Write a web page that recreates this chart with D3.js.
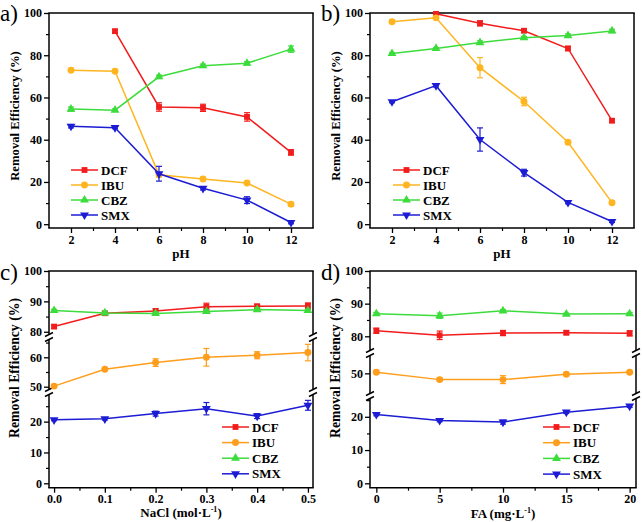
<!DOCTYPE html>
<html><head><meta charset="utf-8">
<script src="https://cdn.jsdelivr.net/npm/d3@7"></script>
</head>
<body style="margin:0;background:#fff">
<svg id="chart" width="642" height="522" style="display:block"></svg>
<script>
// ---------- DATA ----------
const seriesNames = ["DCF", "IBU", "CBZ", "SMX"];
const phValues = [2, 4, 6, 8, 10, 12];
const naclValues = [0.0, 0.1, 0.2, 0.3, 0.4, 0.5];
const faValues = [0, 5, 10, 15, 20];

// Panel a
const aDCF = [null, 91.4, 55.5, 55.1, 50.8, 34.0];
const aDCFerr = [null, 0.8, 2.0, 1.7, 2.0, 1.3];
const aIBU = [72.9, 72.4, 23.4, 21.4, 19.5, 9.5];
const aIBUerr = [0.5, 0.5, 1.0, 0.8, 0.6, 0.8];
const aCBZ = [54.5, 54.0, 69.8, 75.0, 76.2, 82.9];
const aCBZerr = [1.0, 0.6, 0.8, 0.8, 0.8, 1.5];
const aSMX = [46.4, 45.7, 23.9, 17.0, 11.4, 0.8];
const aSMXerr = [0.8, 0.5, 3.5, 0.8, 1.6, 0.6];

// Panel b
const bDCF = [null, 99.6, 95.1, 91.6, 83.2, 49.0];
const bDCFerr = [null, 0.5, 1.2, 0.8, 1.0, 0.8];
const bIBU = [95.9, 97.7, 74.1, 58.1, 38.8, 10.2];
const bIBUerr = [0.5, 0.6, 4.8, 2.0, 0.8, 0.8];
const bCBZ = [80.8, 83.2, 86.0, 88.3, 89.3, 91.5];
const bCBZerr = [0.5, 0.4, 0.8, 0.6, 0.8, 0.8];
const bSMX = [58.0, 65.6, 40.1, 24.4, 10.3, 1.3];
const bSMXerr = [0.5, 0.6, 5.5, 1.6, 0.6, 0.5];

// Panel c
const cDCF = [81.7, 86.1, 86.8, 88.2, 88.4, 88.5];
const cDCFerr = [0.6, 0.5, 0.8, 1.2, 0.6, 1.0];
const cIBU = [50.2, 55.9, 58.2, 60.0, 60.7, 61.6];
const cIBUerr = [0.5, 0.4, 1.3, 3.0, 1.2, 2.8];
const cCBZ = [87.0, 86.2, 86.0, 86.7, 87.3, 87.0];
const cCBZerr = [0.4, 0.6, 0.5, 0.5, 0.6, 0.4];
const cSMX = [20.6, 20.9, 22.6, 24.2, 21.8, 25.3];
const cSMXerr = [0.3, 0.4, 0.8, 2.0, 0.8, 1.6];

// Panel d
const dDCF = [81.7, 80.3, 81.0, 81.1, 80.9];
const dDCFerr = [0.8, 1.3, 0.8, 0.6, 0.8];
const dIBU = [50.3, 48.1, 48.1, 49.7, 50.3];
const dIBUerr = [0.4, 0.5, 1.2, 0.4, 0.4];
const dCBZ = [86.9, 86.3, 87.8, 86.8, 86.9];
const dCBZerr = [0.4, 0.8, 0.4, 0.3, 0.4];
const dSMX = [20.7, 18.9, 18.4, 21.4, 23.2];
const dSMXerr = [0.4, 0.4, 0.6, 0.4, 0.4];

// Tick labels
const phTicks = [2, 4, 6, 8, 10, 12];
const phMinor = [3, 5, 7, 9, 11];
const naclTicks = [0, 0.1, 0.2, 0.3, 0.4, 0.5];
const naclMinor = [0.05, 0.15, 0.25, 0.35, 0.45];
const faTicks = [0, 5, 10, 15, 20];
const faMinor = [2.5, 7.5, 12.5, 17.5];
const yTicksAB = [0, 20, 40, 60, 80, 100];
const yMinorAB = [10, 30, 50, 70, 90];
const yTicksC = [0, 10, 20, 50, 60, 80, 90, 100];
const yMinorC = [5, 15, 25, 55, 65, 85, 95];
const yTicksD = [0, 10, 20, 50, 80, 90, 100];
const yMinorD = [5, 15, 25, 85, 95];

// ---------- STYLE ----------
const colDCF = "#f21c1c", colIBUab = "#ffb520", colIBUcd = "#ff9d1c", colCBZ = "#3ddc3d", colSMX = "#1c1cd4";
const shapes = [d3.symbolSquare, d3.symbolCircle, d3.symbolTriangle, d3.symbolTriangle];
const shapeSize = [34, 38, 34, 34];
const shapeRot = [0, 0, 0, 180];

const svg = d3.select("#chart");

function panel(cfg) {
  const g = svg.append("g");
  const x = d3.scaleLinear().domain(cfg.xDomain).range([cfg.left, cfg.right]);
  const yd = [], yr = [];
  cfg.segs.forEach(s => { yd.push(s.d[0], s.d[1]); yr.push(s.r[0], s.r[1]); });
  const y = d3.scaleLinear().domain(yd).range(yr);
  const top = cfg.segs[cfg.segs.length - 1].r[1];
  const bottom = cfg.segs[0].r[0];

  const fs = "12px";
  const xa = g.append("g").attr("transform", `translate(0,${bottom})`)
    .call(d3.axisBottom(x).tickValues(cfg.xTicks).tickSize(5).tickPadding(2).tickSizeOuter(0).tickFormat(cfg.xFmt));
  xa.select(".domain").remove();
  xa.selectAll("text").style("font-size", fs).style("font-weight", "bold");
  xa.selectAll("line").attr("stroke-width", 1.3);
  const xm = g.append("g").attr("transform", `translate(0,${bottom})`)
    .call(d3.axisBottom(x).tickValues(cfg.xMinor).tickSize(3).tickFormat(""));
  xm.select(".domain").remove();
  xm.selectAll("line").attr("stroke-width", 1.2);

  const ya = g.append("g").attr("transform", `translate(${cfg.left},0)`)
    .call(d3.axisLeft(y).tickValues(cfg.yTicks).tickSize(5).tickPadding(2).tickFormat(d3.format("d")));
  ya.select(".domain").remove();
  ya.selectAll("text").style("font-size", fs).style("font-weight", "bold");
  ya.selectAll("line").attr("stroke-width", 1.3);
  const ym = g.append("g").attr("transform", `translate(${cfg.left},0)`)
    .call(d3.axisLeft(y).tickValues(cfg.yMinor).tickSize(3).tickFormat(""));
  ym.select(".domain").remove();
  ym.selectAll("line").attr("stroke-width", 1.2);

  const fr = g.append("g").attr("stroke", "#000").attr("stroke-width", 1.5).attr("fill", "none");
  fr.append("line").attr("x1", cfg.left - 0.75).attr("x2", cfg.right + 0.75).attr("y1", top).attr("y2", top);
  fr.append("line").attr("x1", cfg.left - 0.75).attr("x2", cfg.right + 0.75).attr("y1", bottom).attr("y2", bottom);
  cfg.segs.forEach(s => {
    [cfg.left, cfg.right].forEach(xx => {
      fr.append("line").attr("x1", xx).attr("x2", xx).attr("y1", s.r[0]).attr("y2", s.r[1]);
    });
  });
  for (let i = 0; i < cfg.segs.length - 1; i++) {
    const y0 = cfg.segs[i].r[1], y1 = cfg.segs[i + 1].r[0];
    [cfg.left, cfg.right].forEach(xx => {
      [y0, y1].forEach(yy => {
        fr.append("line").attr("x1", xx - 4).attr("x2", xx + 4).attr("y1", yy + 2).attr("y2", yy - 2);
      });
    });
  }

  cfg.series.forEach((s, si) => {
    const pts = cfg.xVals.map((xv, i) => ({ x: xv, y: s.v[i], e: s.e[i] })).filter(p => p.y != null);
    const line = d3.line().x(p => x(p.x)).y(p => y(p.y));
    g.append("path").attr("d", line(pts)).attr("fill", "none").attr("stroke", s.c).attr("stroke-width", 1.5);
    const eb = g.append("g").attr("stroke", s.c).attr("stroke-width", 1.2);
    pts.forEach(p => {
      if (!p.e) return;
      const xx = x(p.x), ya1 = y(p.y + p.e), ya0 = y(p.y - p.e);
      eb.append("line").attr("x1", xx).attr("x2", xx).attr("y1", ya0).attr("y2", ya1);
      eb.append("line").attr("x1", xx - 3).attr("x2", xx + 3).attr("y1", ya0).attr("y2", ya0);
      eb.append("line").attr("x1", xx - 3).attr("x2", xx + 3).attr("y1", ya1).attr("y2", ya1);
    });
    g.append("g").selectAll("path").data(pts).join("path")
      .attr("d", d3.symbol().type(shapes[si]).size(shapeSize[si]))
      .attr("transform", p => `translate(${x(p.x)},${y(p.y)}) rotate(${shapeRot[si]})`)
      .attr("fill", s.c);
  });

  const lg = g.append("g");
  cfg.series.forEach((s, si) => {
    const ly = cfg.leg.y + si * cfg.leg.dy;
    lg.append("line").attr("x1", cfg.leg.x).attr("x2", cfg.leg.x + 27).attr("y1", ly).attr("y2", ly)
      .attr("stroke", s.c).attr("stroke-width", 1.5);
    lg.append("path").attr("d", d3.symbol().type(shapes[si]).size(shapeSize[si]))
      .attr("transform", `translate(${cfg.leg.x + 13.5},${ly}) rotate(${shapeRot[si]})`).attr("fill", s.c);
    lg.append("text").attr("x", cfg.leg.x + 30).attr("y", ly + 4.5).text(seriesNames[si])
      .style("font-size", "13px").style("font-weight", "bold");
  });

  g.append("text").attr("transform", `translate(${cfg.left - 30},${cfg.yTitleY}) rotate(-90)`)
    .attr("text-anchor", "middle").style("font-size", cfg.yTitleFs).style("font-weight", "bold")
    .text("Removal Efficiency (%)");
  const xt = g.append("text").attr("x", (cfg.left + cfg.right) / 2).attr("y", cfg.xTitleY)
    .attr("text-anchor", "middle").style("font-size", "13px").style("font-weight", "bold");
  cfg.xTitle.forEach(part => {
    const t = xt.append("tspan").text(part.t);
    if (part.sup) t.style("font-size", "8px").attr("dy", "-5");
    if (part.down) t.attr("dy", "5");
  });
  g.append("text").attr("x", cfg.label.x).attr("y", cfg.label.y).style("font-size", "23px")
    .text(cfg.label.t);
}

const phTitle = [{ t: "pH" }];
panel({
  left: 49, right: 313, xDomain: [1, 13], xTicks: phTicks, xMinor: phMinor, xFmt: d3.format("d"),
  segs: [{ d: [-1.8, 100], r: [228, 13] }], yTicks: yTicksAB, yMinor: yMinorAB,
  xVals: phValues,
  series: [{ v: aDCF, e: aDCFerr, c: colDCF }, { v: aIBU, e: aIBUerr, c: colIBUab },
           { v: aCBZ, e: aCBZerr, c: colCBZ }, { v: aSMX, e: aSMXerr, c: colSMX }],
  leg: { x: 71, y: 170, dy: 15 }, yTitleY: 116, yTitleFs: "12.7px", xTitle: phTitle, xTitleY: 258,
  label: { x: 0, y: 21, t: "a)" }
});
panel({
  left: 370, right: 634, xDomain: [1, 13], xTicks: phTicks, xMinor: phMinor, xFmt: d3.format("d"),
  segs: [{ d: [-1.8, 100], r: [228, 13] }], yTicks: yTicksAB, yMinor: yMinorAB,
  xVals: phValues,
  series: [{ v: bDCF, e: bDCFerr, c: colDCF }, { v: bIBU, e: bIBUerr, c: colIBUab },
           { v: bCBZ, e: bCBZerr, c: colCBZ }, { v: bSMX, e: bSMXerr, c: colSMX }],
  leg: { x: 393, y: 170, dy: 15 }, yTitleY: 116, yTitleFs: "12.7px", xTitle: phTitle, xTitleY: 258,
  label: { x: 321, y: 21, t: "b)" }
});
panel({
  left: 49, right: 313, xDomain: [-0.01, 0.51], xTicks: naclTicks, xMinor: naclMinor, xFmt: d3.format(".1f"),
  segs: [{ d: [-1.43, 28.8], r: [487.7, 394.5] }, { d: [49.05, 66.05], r: [389.5, 339.5] }, { d: [79.1, 100], r: [334.5, 271] }],
  yTicks: yTicksC, yMinor: yMinorC,
  xVals: naclValues,
  series: [{ v: cDCF, e: cDCFerr, c: colDCF }, { v: cIBU, e: cIBUerr, c: colIBUcd },
           { v: cCBZ, e: cCBZerr, c: colCBZ }, { v: cSMX, e: cSMXerr, c: colSMX }],
  leg: { x: 222, y: 427, dy: 15.6 }, yTitleY: 368, yTitleFs: "13.7px",
  xTitle: [{ t: "NaCl (mol·L" }, { t: "-1", sup: true }, { t: ")", down: true }], xTitleY: 517,
  label: { x: 0, y: 280, t: "c)" }
});
panel({
  left: 370, right: 636, xDomain: [-0.5, 20.5], xTicks: faTicks, xMinor: faMinor, xFmt: d3.format("d"),
  segs: [{ d: [-1.32, 25.5], r: [487.7, 398.5] }, { d: [43.9, 55.4], r: [393.5, 355.5] }, { d: [75.65, 100], r: [350.5, 271] }],
  yTicks: yTicksD, yMinor: yMinorD,
  xVals: faValues,
  series: [{ v: dDCF, e: dDCFerr, c: colDCF }, { v: dIBU, e: dIBUerr, c: colIBUcd },
           { v: dCBZ, e: dCBZerr, c: colCBZ }, { v: dSMX, e: dSMXerr, c: colSMX }],
  leg: { x: 543, y: 427, dy: 15.7 }, yTitleY: 368, yTitleFs: "13.7px",
  xTitle: [{ t: "FA (mg·L" }, { t: "-1", sup: true }, { t: ")", down: true }], xTitleY: 517.5,
  label: { x: 321, y: 280, t: "d)" }
});

// apply the serif face to every text (inline style wins over axis defaults)
svg.selectAll("text").style("font-family", '"Liberation Serif"');
svg.selectAll("g").attr("font-family", null);
</script>
</body></html>
